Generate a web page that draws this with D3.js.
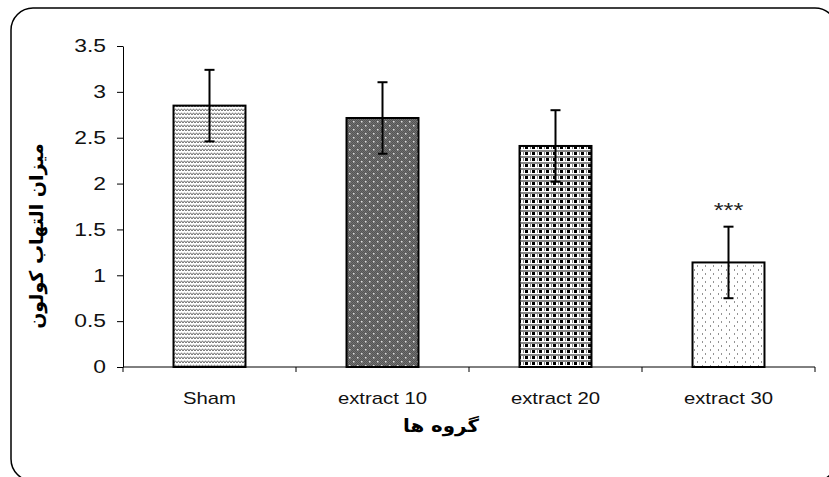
<!DOCTYPE html>
<html>
<head>
<meta charset="utf-8">
<script src="https://cdn.jsdelivr.net/npm/d3@7"></script>
<style>
  body { margin: 0; background: #fff; }
  svg { display: block; font-family: "Liberation Sans", Arial, sans-serif; }
</style>
</head>
<body>
<div id="chart"></div>
<script>
const groups = ["Sham", "extract 10", "extract 20", "extract 30"];
const means = [2.85, 2.715, 2.41, 1.14];
const errors = [0.39, 0.39, 0.39, 0.39];
const marks = ["", "", "", "***"];
const yTicks = [0, 0.5, 1, 1.5, 2, 2.5, 3, 3.5];
const fills = ["url(#p-zigzag)", "url(#p-dots)", "url(#p-grid)", "url(#p-light)"];

const width = 829, height = 477;
const stretch = 1.27; // the source text is drawn wider than normal
const svg = d3.select("#chart").append("svg").attr("width", width).attr("height", height);

// frame around the chart, runs off the right and bottom edges
svg.append("rect")
  .attr("x", 11).attr("y", 8).attr("width", 826).attr("height", 473)
  .attr("rx", 22).attr("ry", 22)
  .attr("fill", "none").attr("stroke", "#000").attr("stroke-width", 1.5);

const defs = svg.append("defs");

let p = defs.append("pattern").attr("id", "p-zigzag").attr("patternUnits", "userSpaceOnUse")
  .attr("width", 6).attr("height", 4);
p.append("rect").attr("width", 6).attr("height", 4).attr("fill", "#fff");
p.append("path").attr("d", "M0,3 L1.5,0.8 L3,3 L4.5,0.8 L6,3").attr("fill", "none")
  .attr("stroke", "#6a6a6a").attr("stroke-width", 1);

p = defs.append("pattern").attr("id", "p-dots").attr("patternUnits", "userSpaceOnUse")
  .attr("width", 8).attr("height", 8);
p.append("rect").attr("width", 8).attr("height", 8).attr("fill", "#707070");
for (let i = 0; i < 8; i++) for (let j = 0; j < 8; j++) {
  if ((i + j) % 2 === 0) p.append("rect").attr("x", i).attr("y", j).attr("width", 1).attr("height", 1).attr("fill", "#555");
}
p.append("rect").attr("x", 1).attr("y", 1).attr("width", 1.5).attr("height", 1.5).attr("fill", "#ddd");
p.append("rect").attr("x", 5).attr("y", 5).attr("width", 1.5).attr("height", 1.5).attr("fill", "#ddd");

p = defs.append("pattern").attr("id", "p-grid").attr("patternUnits", "userSpaceOnUse")
  .attr("width", 7).attr("height", 6);
p.append("rect").attr("width", 7).attr("height", 6).attr("fill", "#fff");
p.append("rect").attr("x", 0).attr("y", 0).attr("width", 7).attr("height", 2).attr("fill", "#8a8a8a");
p.append("rect").attr("x", 0).attr("y", 2).attr("width", 3).attr("height", 3).attr("fill", "#000");
p.append("rect").attr("x", 5).attr("y", 2).attr("width", 1).attr("height", 3).attr("fill", "#888");

p = defs.append("pattern").attr("id", "p-light").attr("patternUnits", "userSpaceOnUse")
  .attr("width", 8).attr("height", 8);
p.append("rect").attr("width", 8).attr("height", 8).attr("fill", "#fff");
p.append("path").attr("d", "M2,1 L1,2 L2,3 M6,5 L7,6 L6,7").attr("fill", "none")
  .attr("stroke", "#888").attr("stroke-width", 0.9);

const x = d3.scaleBand().domain(groups).range([123, 815]).paddingInner(0.584).paddingOuter(0.292);
const y = d3.scaleLinear().domain([0, 3.5]).range([367, 46]);

const g = svg.append("g");

// y axis
const yAxis = g.append("g").attr("transform", "translate(123,0)")
  .call(d3.axisLeft(y).tickValues(yTicks).tickSize(6).tickSizeOuter(0).tickFormat(d3.format("")));
yAxis.attr("font-size", null).attr("font-family", null);
yAxis.select(".domain").attr("stroke", "#000").attr("stroke-width", 1);
yAxis.selectAll(".tick line").attr("stroke", "#000");
yAxis.selectAll("text").style("font-size", "18px").attr("fill", "#111")
  .attr("x", -17 / stretch).attr("transform", `scale(${stretch},1)`);

// x axis with boundary ticks
const bounds = d3.range(groups.length + 1).map((i) => 123 + i * x.step());
g.append("line").attr("x1", 123).attr("x2", 815).attr("y1", y(0)).attr("y2", y(0))
  .attr("stroke", "#000").attr("stroke-width", 1);
g.selectAll(".xtick").data(bounds).join("line")
  .attr("x1", (d) => d).attr("x2", (d) => d).attr("y1", y(0)).attr("y2", y(0) + 5)
  .attr("stroke", "#000");
g.selectAll(".xlabel").data(groups).join("text")
  .attr("transform", (d) => `translate(${x(d) + x.bandwidth() / 2},404) scale(${stretch},1)`)
  .attr("text-anchor", "middle").style("font-size", "16px").attr("fill", "#111").text((d) => d);

// bars
g.selectAll(".bar").data(groups).join("rect")
  .attr("x", (d) => x(d)).attr("width", x.bandwidth())
  .attr("y", (d, i) => y(means[i])).attr("height", (d, i) => y(0) - y(means[i]))
  .attr("fill", (d, i) => fills[i]).attr("stroke", "#000").attr("stroke-width", 2);

// error bars
const cx = (d) => x(d) + x.bandwidth() / 2;
g.selectAll(".err").data(groups).join("line")
  .attr("x1", cx).attr("x2", cx)
  .attr("y1", (d, i) => y(means[i] + errors[i])).attr("y2", (d, i) => y(means[i] - errors[i]))
  .attr("stroke", "#000").attr("stroke-width", 2);
[1, -1].forEach((s, k) => {
  g.selectAll(".cap" + k).data(groups).join("line")
    .attr("x1", (d) => cx(d) - 5).attr("x2", (d) => cx(d) + 5)
    .attr("y1", (d, i) => y(means[i] + s * errors[i]))
    .attr("y2", (d, i) => y(means[i] + s * errors[i]))
    .attr("stroke", "#000").attr("stroke-width", 2);
});

// significance marks
g.selectAll(".mark").data(groups).join("text")
  .attr("transform", (d, i) => `translate(${cx(d)},${y(means[i] + errors[i]) - 10}) scale(${stretch},1)`)
  .attr("text-anchor", "middle").style("font-size", "20px").attr("fill", "#222").text((d, i) => marks[i]);

// axis titles
svg.append("text").attr("transform", `translate(441,432) scale(1.1,1)`).attr("text-anchor", "middle")
  .style("font-size", "18px").attr("font-weight", "bold").attr("font-family", "DejaVu Sans, sans-serif")
  .attr("direction", "rtl").text("گروه ها");
svg.append("text").attr("transform", "translate(43,236) rotate(-90)").attr("text-anchor", "middle")
  .style("font-size", "19px").attr("font-weight", "bold").attr("font-family", "DejaVu Sans, sans-serif")
  .attr("direction", "rtl").text("میزان التهاب کولون");
</script>
</body>
</html>
